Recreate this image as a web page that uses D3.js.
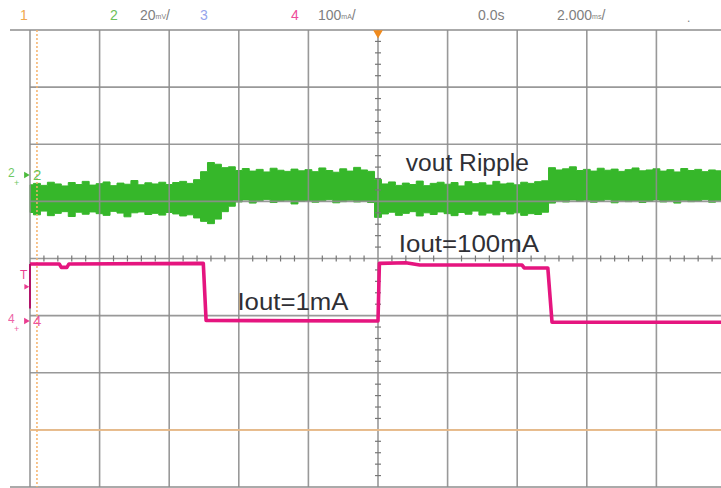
<!DOCTYPE html>
<html>
<head>
<meta charset="utf-8">
<script src="https://cdn.jsdelivr.net/npm/d3@7/dist/d3.min.js"></script>
<style>
  html, body { margin: 0; padding: 0; background: #fff; }
  svg { display: block; }
</style>
</head>
<body>
<svg id="chart" width="721" height="488"></svg>
<script>
// ---------------- DATA ----------------
// Time in divisions (2 ms/div), channel 2 in mV (20 mV/div), channel 4 in mA (100 mA/div)
const timeDivs = [0,1,2,3,4,5,6,7,8,9,10];
const voltDivs = [-4,-3,-2,-1,0,1,2,3,4];

const headerLabels = [
  { text: "1", x: 20, color: "#f0a850" },
  { text: "2", x: 110, color: "#6cc05a" },
  { text: "20", unit: "mV", x: 140, color: "#808080" },
  { text: "3", x: 200, color: "#95a4ec" },
  { text: "4", x: 291, color: "#ee4b9a" },
  { text: "100", unit: "mA", x: 318, color: "#808080" },
  { text: "0.0s", x: 478, color: "#808080" },
  { text: "2.000", unit: "ms", x: 557, color: "#808080" }
];

// Channel 2 (vout ripple) noise envelope, sampled every 0.1 div (mV rel. to ch2 marker)
const ch2Time = d3.range(0, 101).map(i => i / 10);
const ch2Top = [
  -3.4,-2.9,-3.6,-2.5,-3.1,-3.8,-2.6,-3.3,-2.2,-3.5,
  -3.0,-2.4,-3.7,-2.8,-3.2,-1.9,-3.4,-2.7,-3.1,-2.5,
  -3.3,-2.6,-2.2,-2.9,-1.6,
  1.2,4.4,3.8,2.6,2.9,
  1.6,2.3,1.4,2.0,1.1,2.4,1.7,1.3,2.1,1.5,
  1.9,1.2,2.5,1.6,1.0,2.2,1.4,2.7,1.8,1.3,
  -1.5,-3.1,-2.4,-3.6,-2.8,-3.3,-2.1,-3.7,-2.9,-2.5,
  -3.2,-2.6,-3.8,-2.3,-3.0,-2.7,-3.5,-2.2,-3.1,-2.8,
  -3.4,-2.5,-2.9,-2.3,-2.0,
  2.6,1.8,2.2,2.9,1.6,
  2.0,1.4,2.4,1.7,2.1,1.3,1.9,2.5,1.5,1.8,
  2.2,1.4,1.9,1.1,2.3,1.6,2.0,1.2,1.8,1.5,1.7
];
const ch2Bottom = [
  -13.1,-13.9,-12.6,-14.2,-13.4,-12.8,-14.5,-13.0,-13.7,-12.9,
  -13.5,-14.1,-12.7,-13.3,-14.6,-13.2,-12.9,-13.8,-13.4,-14.0,
  -13.1,-13.6,-14.3,-13.9,-15.0,
  -16.2,-17.0,-15.4,-12.8,-10.9,
  -9.4,-8.7,-9.8,-9.0,-8.5,-9.6,-9.1,-8.8,-10.1,-9.2,
  -8.9,-9.5,-9.0,-8.6,-9.7,-9.3,-8.8,-9.4,-9.1,-9.6,
  -14.8,-13.6,-13.0,-14.1,-13.4,-12.8,-14.3,-13.2,-13.8,-12.9,
  -13.5,-14.2,-13.1,-13.7,-12.6,-14.0,-13.3,-13.9,-12.8,-13.6,
  -13.2,-14.1,-13.5,-13.8,-13.0,
  -9.8,-9.0,-9.4,-8.7,-9.2,
  -8.8,-9.5,-9.1,-8.6,-9.7,-9.0,-9.3,-8.9,-9.6,-9.2,
  -8.7,-9.4,-9.0,-9.8,-8.8,-9.3,-9.1,-8.6,-9.5,-9.0,-9.2
];

// Channel 4 (load current) in mA
const ch4Time = [0, 0.42, 0.45, 0.53, 0.56, 2.49, 2.53, 5.0, 5.02, 5.4, 5.6, 7.07, 7.1, 7.44, 7.5, 10];
const ch4Current = [100, 100, 94, 94, 100, 101, 1, 0, 101, 102, 98, 98, 93, 93, -2, -2];

// Channel 1 flat level (div) and cursor
const ch1Level = [-3.0];
const ch1CursorTime = [0.1];

const annotations = [
  { text: "vout Ripple", t: 5.4, v: 1.54, len: 123 },
  { text: "Iout=100mA", t: 5.3, v: 0.12, len: 140 },
  { text: "Iout=1mA", t: 2.98, v: -0.91, len: 111 }
];

// ---------------- SCALES ----------------
const svg = d3.select("#chart");
const x = d3.scaleLinear().domain([0, 10]).range([30, 726]);
const y = d3.scaleLinear().domain([-4, 4]).range([487, 30]);
const ch2Offset = 1.46;    // divisions
const ch2Scale = 20;       // mV/div
const ch4Offset = -1.095;  // divisions
const ch4Scale = 100;      // mA/div
const y2 = mv => y(ch2Offset + mv / ch2Scale);
const y4 = ma => y(ch4Offset + ma / ch4Scale);

const GREEN = "#36b72a";
const MAGENTA = "#e5157f";
const GRID = "#8e8e8e";

// ---------------- CH2 band ----------------
const ch2Data = ch2Time.map((t, i) => ({ t, top: ch2Top[i], bot: ch2Bottom[i] }));
svg.append("path")
  .datum(ch2Data)
  .attr("d", d3.area().curve(d3.curveStep).x(d => x(d.t)).y0(d => y2(d.bot)).y1(d => y2(d.top)))
  .attr("fill", GREEN)
  .attr("stroke", GREEN)
  .attr("stroke-width", 1);

// ---------------- GRID ----------------
const grid = svg.append("g");
grid.selectAll("line.v").data(timeDivs).join("line")
  .attr("x1", d => x(d)).attr("x2", d => x(d))
  .attr("y1", y(4)).attr("y2", y(-4))
  .attr("stroke", GRID).attr("stroke-width", 1.6).attr("opacity", 0.9);
grid.selectAll("line.h").data(voltDivs.filter(d => d !== 4 && d !== -4)).join("line")
  .attr("x1", x(0)).attr("x2", 721)
  .attr("y1", d => y(d)).attr("y2", d => y(d))
  .attr("stroke", GRID).attr("stroke-width", 1.6).attr("opacity", 0.9);
// frame top/bottom
[4, -4].forEach(v => {
  svg.append("line").attr("x1", 10).attr("x2", 721)
    .attr("y1", y(v)).attr("y2", y(v))
    .attr("stroke", GRID).attr("stroke-width", 1.6);
});
// minor ticks on center axes
const minorX = d3.range(0, 50).map(i => i / 5).filter(d => d % 1 !== 0);
const minorY = d3.range(-20, 20).map(i => i / 5).filter(d => d % 1 !== 0);
grid.selectAll("line.mx").data(minorX).join("line")
  .attr("x1", d => x(d)).attr("x2", d => x(d))
  .attr("y1", y(0) - 3).attr("y2", y(0) + 3)
  .attr("stroke", "#777").attr("stroke-width", 1.2);
grid.selectAll("line.my").data(minorY).join("line")
  .attr("x1", x(5) - 3).attr("x2", x(5) + 3)
  .attr("y1", d => y(d)).attr("y2", d => y(d))
  .attr("stroke", "#777").attr("stroke-width", 1.2);

// ---------------- CH1 ----------------
svg.append("line")
  .attr("x1", x(0)).attr("x2", 721)
  .attr("y1", y(ch1Level[0])).attr("y2", y(ch1Level[0]))
  .attr("stroke", "#f2c08a").attr("stroke-width", 2).attr("opacity", 0.85);
svg.append("line")
  .attr("x1", x(ch1CursorTime[0])).attr("x2", x(ch1CursorTime[0]))
  .attr("y1", y(4)).attr("y2", y(-4))
  .attr("stroke", "#f5b26a").attr("stroke-width", 1.5)
  .attr("stroke-dasharray", "2,2");

// ---------------- CH4 ----------------
const ch4Data = ch4Time.map((t, i) => ({ t, v: ch4Current[i] }));
svg.append("path")
  .datum(ch4Data)
  .attr("d", d3.line().x(d => x(d.t)).y(d => y4(d.v)))
  .attr("fill", "none")
  .attr("stroke", MAGENTA)
  .attr("stroke-width", 3.6)
  .attr("stroke-linejoin", "round");
svg.append("line")
  .attr("x1", x(0)).attr("x2", x(0))
  .attr("y1", y4(100)).attr("y2", y4(22))
  .attr("stroke", "#b0146a").attr("stroke-width", 2);

// ---------------- trigger marker ----------------
svg.append("path")
  .attr("d", d3.symbol().type(d3.symbolTriangle).size(40)())
  .attr("transform", `translate(${x(5)},${y(4) + 3}) rotate(180)`)
  .attr("fill", "#f08a1c");

// ---------------- header ----------------
const header = svg.append("g").attr("font-family", "'Liberation Sans', Arial, sans-serif");
headerLabels.forEach(h => {
  const tEl = header.append("text")
    .attr("x", h.x).attr("y", 20)
    .attr("font-size", 14)
    .attr("fill", h.color);
  tEl.append("tspan").text(h.text);
  if (h.unit) {
    tEl.append("tspan").attr("font-size", 7).attr("dy", -1).text(h.unit);
    tEl.append("tspan").attr("font-size", 14).attr("dy", 1).text("/");
  }
});
header.append("text").attr("x", 687).attr("y", 22).attr("font-size", 12).attr("fill", "#808080").text(".");

// ---------------- left channel markers ----------------
const markers = svg.append("g").attr("font-family", "'Liberation Sans', Arial, sans-serif");
function chanMarker(yPos, label, color) {
  markers.append("text").attr("x", 8).attr("y", yPos + 2).attr("font-size", 12).attr("fill", color).attr("opacity", 0.8).text(label);
  markers.append("text").attr("x", 14).attr("y", yPos + 11).attr("font-size", 9).attr("fill", color).attr("opacity", 0.8).text("+");
  markers.append("path")
    .attr("d", d3.symbol().type(d3.symbolTriangle).size(18)())
    .attr("transform", `translate(${x(0) - 4},${yPos}) rotate(90)`)
    .attr("fill", color);
  markers.append("text").attr("x", 33).attr("y", yPos + 5).attr("font-size", 15).attr("fill", color).attr("opacity", 0.85).text(label);
}
chanMarker(y2(0), "2", "#4cbb3c");
chanMarker(y4(0), "4", "#ea3c90");
markers.append("text").attr("x", 20).attr("y", y4(100) + 15).attr("font-size", 12).attr("fill", "#ea3c90").text("T");
markers.append("path")
  .attr("d", d3.symbol().type(d3.symbolTriangle).size(14)())
  .attr("transform", `translate(${x(0) - 4},${y4(60)}) rotate(90)`)
  .attr("fill", "#ea3c90");

// ---------------- annotations ----------------
svg.append("g").selectAll("text").data(annotations).join("text")
  .attr("x", d => x(d.t)).attr("y", d => y(d.v))
  .attr("font-family", "'Liberation Sans', Arial, sans-serif")
  .attr("font-size", 23)
  .attr("fill", "#2f2f35")
  .attr("textLength", d => d.len)
  .attr("lengthAdjust", "spacingAndGlyphs")
  .text(d => d.text);
</script>
</body>
</html>
